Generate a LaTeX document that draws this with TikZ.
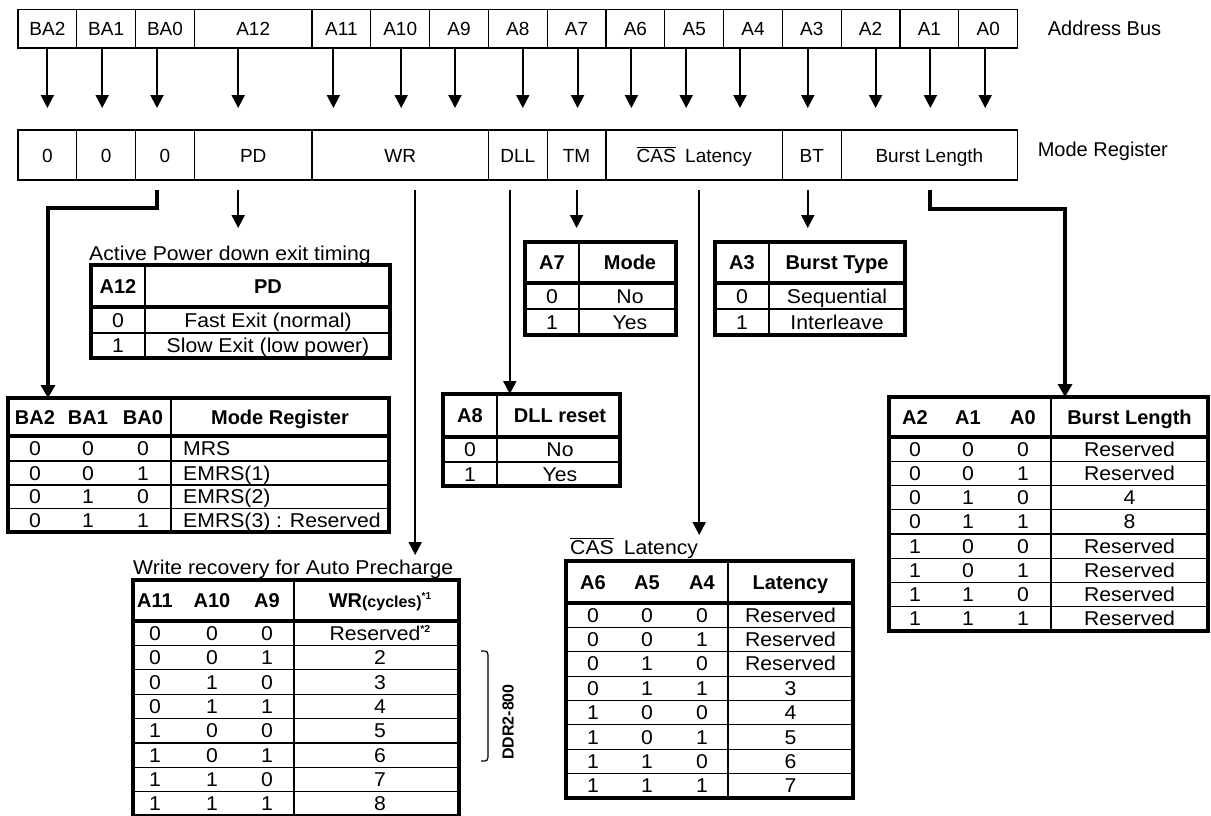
\documentclass[tikz,border=0pt]{standalone}
\usepackage{fontspec}
\setmainfont{Liberation Sans}
\newfontfamily\tblfont[FakeStretch=1.06]{Liberation Sans}
\usetikzlibrary{positioning,arrows.meta}

\newcommand{\tblsize}{\fontsize{20}{24}\selectfont}

\begin{document}
\begin{tikzpicture}[x=1pt, y=-1pt, font=\fontsize{19}{23}\selectfont,
    buscell/.style={draw, line width=1.3pt, minimum width=58.8pt, minimum height=38.5pt,
        inner sep=0pt, outer sep=0pt, text height=14pt, text depth=0pt},
    regcell/.style={buscell, minimum height=50pt},
    busarrow/.style={line width=2pt, -{Triangle[width=13pt,length=13pt]}},
    fieldline/.style={line width=4pt, -{Triangle[width=14pt,length=13pt]}},
    tblbox/.style={draw, line width=3.5pt, anchor=north west, inner sep=0pt, outer sep=0pt},
    hdrline/.style={line width=3.5pt},
    rowline/.style={line width=1.2pt},
    entry/.style={inner sep=0pt, font=\tblfont\tblsize, text height=14pt, text depth=0pt},
    hd/.style={entry, font=\tblsize\bfseries},
    tblcap/.style={anchor=base west, inner sep=0pt, font=\tblfont\tblsize}]

    \useasboundingbox (0,0) rectangle (1211,815);
    \fill[white] (0,0) rectangle (1211,815);

    % address bus
    \node[buscell] (bBA2) at (47.4,28.75) {BA2};
    \node[buscell, right=0pt of bBA2] (bBA1) {BA1};
    \node[buscell, right=0pt of bBA1] (bBA0) {BA0};
    \node[buscell, right=0pt of bBA0, minimum width=117.6pt] (bA12) {A12};
    \node[buscell, right=0pt of bA12] (bA11) {A11};
    \node[buscell, right=0pt of bA11] (bA10) {A10};
    \node[buscell, right=0pt of bA10] (bA9) {A9};
    \node[buscell, right=0pt of bA9] (bA8) {A8};
    \node[buscell, right=0pt of bA8] (bA7) {A7};
    \node[buscell, right=0pt of bA7] (bA6) {A6};
    \node[buscell, right=0pt of bA6] (bA5) {A5};
    \node[buscell, right=0pt of bA5] (bA4) {A4};
    \node[buscell, right=0pt of bA4] (bA3) {A3};
    \node[buscell, right=0pt of bA3] (bA2) {A2};
    \node[buscell, right=0pt of bA2] (bA1) {A1};
    \node[buscell, right=0pt of bA1] (bA0) {A0};
    \node[inner sep=0pt, font=\tblsize, right=30pt of bA0] (buslbl) {Address Bus};

    % mode register
    \node[regcell] (r0a) at (47.4,155) {0};
    \node[regcell, right=0pt of r0a] (r0b) {0};
    \node[regcell, right=0pt of r0b] (r0c) {0};
    \node[regcell, right=0pt of r0c, minimum width=117.6pt] (rPD) {PD};
    \node[regcell, right=0pt of rPD, minimum width=176.4pt] (rWR) {WR};
    \node[regcell, right=0pt of rWR] (rDLL) {DLL};
    \node[regcell, right=0pt of rDLL] (rTM) {TM};
    \node[regcell, right=0pt of rTM, minimum width=176.4pt] (rCAS)
        {\ensuremath{\overline{\mbox{CAS}}}\hspace{0.5em}Latency};
    \node[regcell, right=0pt of rCAS] (rBT) {BT};
    \node[regcell, right=0pt of rBT, minimum width=176.4pt] (rBL) {Burst Length};
    \node[inner sep=0pt, font=\tblsize, right=20pt of rBL, yshift=4pt] (reglbl) {Mode Register};

    \foreach \n/\d in {BA2/0, BA1/-4, BA0/-8, A12/-15, A11/-8, A10/1, A9/-4, A8/5,
                       A7/1, A6/-4, A5/-8, A4/-13, A3/-4, A2/5, A1/1, A0/-3}
        \draw[busarrow] ([xshift=\d pt]b\n.south) -- ++(0,60);

    \coordinate (sBA0) at ([xshift=-8pt,yshift=-10pt]r0c.south);
    \coordinate (sPD) at ([xshift=-15pt,yshift=-10pt]rPD.south);
    \coordinate (sWR) at ([xshift=15pt,yshift=-10pt]rWR.south);
    \coordinate (sDLL) at ([xshift=-8pt,yshift=-10pt]rDLL.south);
    \coordinate (sTM) at ([yshift=-10pt]rTM.south);
    \coordinate (sCAS) at ([xshift=5pt,yshift=-10pt]rCAS.south);
    \coordinate (sBT) at ([xshift=-4pt,yshift=-10pt]rBT.south);
    \coordinate (sBL) at ([xshift=1pt,yshift=-10pt]rBL.south);

    % tables
    \node[tblbox, minimum width=299pt, minimum height=93pt] (pdtab) at (91,265) {};
    \node[tblbox, minimum width=151pt, minimum height=93pt] (modetab) at (525,242) {};
    \node[tblbox, minimum width=190pt, minimum height=93pt] (bttab) at (715,242) {};
    \node[tblbox, minimum width=177pt, minimum height=92pt] (dlltab) at (443,394) {};
    \node[tblbox, minimum width=381pt, minimum height=134pt] (batab) at (8,398) {};
    \node[tblbox, minimum width=319pt, minimum height=234pt] (bltab) at (889,397) {};
    \node[tblbox, minimum width=326pt, minimum height=236pt] (wrtab) at (133,580) {};
    \node[tblbox, minimum width=287pt, minimum height=237pt] (castab) at (566,561) {};

    \draw[fieldline] (sBA0) -- ++(0,18) -| ([xshift=40pt]batab.north west);
    \draw[busarrow] (sPD) -- ++(0,38);
    \draw[busarrow] (sWR) -- ++(0,365);
    \draw[busarrow] (sDLL) -- (sDLL |- dlltab.north);
    \draw[busarrow] (sTM) -- ++(0,38);
    \draw[busarrow] (sCAS) -- ++(0,345);
    \draw[busarrow] (sBT) -- ++(0,38);
    \draw[fieldline] (sBL) -- ++(0,19) -| ([xshift=176pt]bltab.north west);

    % power down
    \node[tblcap] (pdcap) at ([xshift=-2pt,yshift=5pt]pdtab.north west) {Active Power down exit timing};
    \draw[hdrline] (91,307) -- (390,307);
    \draw[rowline] (91,333) -- (390,333);
    \draw[rowline] (145,265) -- (145,358);
    \node[hd] (pdh1) at (118,286) {A12};
    \node[hd] (pdh2) at (268,286) {PD};
    \foreach \y/\a/\b [count=\i] in {320/0/Fast Exit (normal), 345.5/1/Slow Exit (low power)} {
        \node[entry] (pd\i-a) at (118,\y) {\a};
        \node[entry] (pd\i-b) at (268,\y) {\b};
    }

    % test mode
    \draw[hdrline] (525,283) -- (676,283);
    \draw[rowline] (525,309) -- (676,309);
    \draw[rowline] (579,242) -- (579,335);
    \node[hd] (mdh1) at (552,262) {A7};
    \node[hd] (mdh2) at (630,262) {Mode};
    \foreach \y/\a/\b [count=\i] in {296/0/No, 322/1/Yes} {
        \node[entry] (md\i-a) at (552,\y) {\a};
        \node[entry] (md\i-b) at (630,\y) {\b};
    }

    % burst type
    \draw[hdrline] (715,283) -- (905,283);
    \draw[rowline] (715,309) -- (905,309);
    \draw[rowline] (769,242) -- (769,335);
    \node[hd] (bth1) at (742,262) {A3};
    \node[hd] (bth2) at (837,262) {Burst Type};
    \foreach \y/\a/\b [count=\i] in {296/0/Sequential, 322/1/Interleave} {
        \node[entry] (bt\i-a) at (742,\y) {\a};
        \node[entry] (bt\i-b) at (837,\y) {\b};
    }

    % dll reset
    \draw[hdrline] (443,437) -- (620,437);
    \draw[rowline] (443,462) -- (620,462);
    \draw[rowline] (497,394) -- (497,486);
    \node[hd] (dlh1) at (470,415) {A8};
    \node[hd] (dlh2) at (560,415) {DLL reset};
    \foreach \y/\a/\b [count=\i] in {449.5/0/No, 474/1/Yes} {
        \node[entry] (dl\i-a) at (470,\y) {\a};
        \node[entry] (dl\i-b) at (560,\y) {\b};
    }

    % bank select
    \draw[hdrline] (8,436) -- (389,436);
    \foreach \y in {461,485,508.5}
        \draw[rowline] (8,\y) -- (389,\y);
    \draw[rowline] (171,398) -- (171,532);
    \foreach \x/\t [count=\i] in {35/BA2, 88/BA1, 143/BA0, 280/Mode Register}
        \node[hd] (bah\i) at (\x,417) {\t};
    \foreach \y/\p/\q/\r/\t [count=\i] in {448.5/0/0/0/MRS, 473/0/0/1/EMRS(1),
                                          496.7/0/1/0/EMRS(2), 520/0/1/1/EMRS(3) : Reserved} {
        \node[entry] (ba\i-a) at (35,\y) {\p};
        \node[entry] (ba\i-b) at (88,\y) {\q};
        \node[entry] (ba\i-c) at (143,\y) {\r};
        \node[entry, anchor=west] (ba\i-d) at (183,\y) {\t};
    }

    % burst length
    \draw[hdrline] (889,437) -- (1208,437);
    \foreach \k in {1,...,7}
        \draw[rowline] (889,{437+24.25*\k}) -- (1208,{437+24.25*\k});
    \draw[rowline] (1051,397) -- (1051,631);
    \foreach \x/\t [count=\i] in {915/A2, 968/A1, 1023/A0, 1129.5/Burst Length}
        \node[hd] (blh\i) at (\x,417) {\t};
    \foreach \p/\q/\r/\t [count=\i from 0] in {0/0/0/Reserved, 0/0/1/Reserved, 0/1/0/4, 0/1/1/8,
                                              1/0/0/Reserved, 1/0/1/Reserved, 1/1/0/Reserved, 1/1/1/Reserved} {
        \node[entry] (bl\i-a) at (915,{449.1+24.25*\i}) {\p};
        \node[entry] (bl\i-b) at (968,{449.1+24.25*\i}) {\q};
        \node[entry] (bl\i-c) at (1023,{449.1+24.25*\i}) {\r};
        \node[entry] (bl\i-d) at (1129.5,{449.1+24.25*\i}) {\t};
    }

    % write recovery
    \node[tblcap] (wrcap) at ([yshift=6pt]wrtab.north west) {Write recovery for Auto Precharge};
    \draw[hdrline] (133,621) -- (459,621);
    \foreach \k in {0,...,6}
        \draw[rowline] (133,{645.5+24.35*\k}) -- (459,{645.5+24.35*\k});
    \draw[rowline] (294,580) -- (294,816);
    \foreach \x/\t [count=\i] in {155/A11, 212/A10, 267/A9}
        \node[hd] (wrh\i) at (\x,600) {\t};
    \node[hd] (wrh4) at (380,600)
        {WR{\fontsize{16}{18}\selectfont(cycles)}\raisebox{8pt}{\fontsize{10}{11}\selectfont *1}};
    \foreach \p/\q/\r/\t [count=\i from 0] in {0/0/0/{Reserved\raisebox{8pt}{\fontsize{10}{11}\selectfont\bfseries *2}},
                                              0/0/1/2, 0/1/0/3, 0/1/1/4, 1/0/0/5, 1/0/1/6, 1/1/0/7, 1/1/1/8} {
        \node[entry] (wr\i-a) at (155,{633.3+24.35*\i}) {\p};
        \node[entry] (wr\i-b) at (212,{633.3+24.35*\i}) {\q};
        \node[entry] (wr\i-c) at (267,{633.3+24.35*\i}) {\r};
        \node[entry] (wr\i-d) at (380,{633.3+24.35*\i}) {\t};
    }
    \draw[line width=1.2pt] (481,651) .. controls (488,651) .. (488,659) -- (488,753)
        .. controls (488,761) .. (481,761);
    \node[rotate=90, inner sep=0pt, font=\fontsize{16}{18}\selectfont\bfseries] (ddrlbl) at (508,722) {DDR2-800};

    % cas latency
    \node[tblcap] (cascap) at ([xshift=4pt,yshift=7pt]castab.north west)
        {\ensuremath{\overline{\mbox{CAS}}}\hspace{0.5em}Latency};
    \draw[hdrline] (566,603) -- (853,603);
    \foreach \k in {1,...,7}
        \draw[rowline] (566,{603+24.375*\k}) -- (853,{603+24.375*\k});
    \draw[rowline] (728,561) -- (728,798);
    \foreach \x/\t [count=\i] in {593/A6, 647/A5, 702/A4, 790.5/Latency}
        \node[hd] (cah\i) at (\x,582) {\t};
    \foreach \p/\q/\r/\t [count=\i from 0] in {0/0/0/Reserved, 0/0/1/Reserved, 0/1/0/Reserved, 0/1/1/3,
                                              1/0/0/4, 1/0/1/5, 1/1/0/6, 1/1/1/7} {
        \node[entry] (ca\i-a) at (593,{615.2+24.375*\i}) {\p};
        \node[entry] (ca\i-b) at (647,{615.2+24.375*\i}) {\q};
        \node[entry] (ca\i-c) at (702,{615.2+24.375*\i}) {\r};
        \node[entry] (ca\i-d) at (790.5,{615.2+24.375*\i}) {\t};
    }
\end{tikzpicture}
\end{document}
